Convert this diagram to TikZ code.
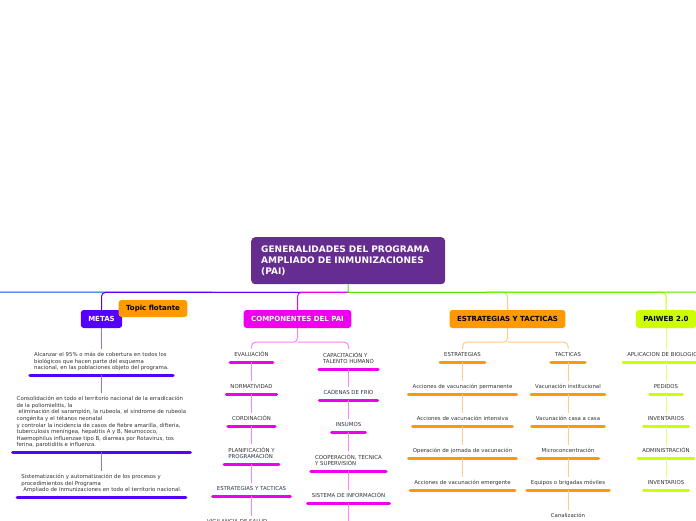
\documentclass[tikz,border=0pt]{standalone}
\usepackage{fontspec}
\setmainfont{DejaVu Sans}
\definecolor{rootC}{HTML}{662D91}
\definecolor{metC}{HTML}{5500FF}
\definecolor{metL}{HTML}{9070FF}
\definecolor{comC}{HTML}{EE00EE}
\definecolor{comL}{HTML}{FF80FF}
\definecolor{estC}{HTML}{FF9900}
\definecolor{estL}{HTML}{FFCC88}
\definecolor{paiC}{HTML}{CCFF00}
\definecolor{paiL}{HTML}{E4FF80}
\definecolor{grnC}{HTML}{4CE600}
\definecolor{bluC}{HTML}{0050E0}
\definecolor{txtC}{HTML}{333333}
\tikzset{
  topicbox/.style={rounded corners=3pt, minimum height=18pt, inner xsep=7.5pt, inner ysep=0pt,
    font=\fontsize{7}{8}\selectfont\bfseries},
  subtxt/.style={inner xsep=4pt, inner ysep=3pt, align=left, text=txtC,
    font=\fontsize{5.4}{6.6}\selectfont, execute at end node=\strut},
  bar/.style={line width=3pt, line cap=round, draw=#1},
  conn/.style={line width=1pt, draw=#1},
}
\newcommand{\mysub}[5]{%
  \node[subtxt, anchor=south] (#1) at (#2,#3) {#5};
  \draw[bar=#4] (#1.south west) -- (#1.south east);}
\begin{document}
\begin{tikzpicture}[x=1pt,y=-1pt]
\useasboundingbox (0,0) rectangle (696,520);
\clip (0,0) rectangle (696,520);
\fill[white] (0,0) rectangle (696,520);

% root
\node[fill=rootC, text=white, rounded corners=4pt, anchor=north west, text width=174pt,
  minimum height=47pt, inner xsep=10pt, inner ysep=0pt, align=left,
  font=\fontsize{9}{11}\selectfont\bfseries] (root) at (251,237)
  {GENERALIDADES DEL PROGRAMA\\AMPLIADO DE INMUNIZACIONES\\(PAI)};

% main topics
\node[topicbox, fill=metC, text=white] (metas) at (101.5,319) {METAS};
\node[topicbox, fill=comC, text=white] (comp) at (297.5,319) {COMPONENTES DEL PAI};
\node[topicbox, fill=estC, text=black] (estr) at (507.5,319) {ESTRATEGIAS Y TACTICAS};
\node[topicbox, fill=paiC, text=black] (pai) at (666,319) {PAIWEB 2.0};
\node[topicbox, fill=estC, text=black, minimum height=17pt] (flot) at (153,308.5) {Topic flotante};

% hub lines
\coordinate (hub) at ([yshift=-8pt]root.south);
\coordinate (leftend) at (0,292);
\coordinate (rightend) at (700,292);
\draw[conn=bluC] (hub) -- (leftend);
\draw[conn=metC, rounded corners=4pt] (hub) -| (metas.north);
\draw[conn=comC, rounded corners=4pt] (hub) -| (comp.north);
\draw[conn=estL, rounded corners=4pt] (hub) -| (estr.north);
\draw[conn=paiC, rounded corners=4pt] (hub) -| (pai.north);
\draw[conn=grnC] (root.south) -- (hub) -- (rightend);

% METAS
\mysub{m1}{101.5}{375}{metC}{Alcanzar el 95\% o más de cobertura en todos los\\biológicos que hacen parte del esquema\\nacional, en las poblaciones objeto del programa.}
\mysub{m2}{101.5}{452}{metC}{Consolidación en todo el territorio nacional de la erradicación\\de la poliomielitis, la\\\hspace*{2pt}eliminación del sarampión, la rubeola, el síndrome de rubeola\\congénita y el tétanos neonatal\\y controlar la incidencia de casos de fiebre amarilla, difteria,\\tuberculosis meníngea, hepatitis A y B, Neumococo,\\Haemophilus influenzae tipo B, diarreas por Rotavirus, tos\\ferina, parotiditis e influenza.}
\mysub{m3}{101.5}{497}{metC}{Sistematización y automatización de los procesos y\\procedimientos del Programa\\\hspace*{2pt}Ampliado de Inmunizaciones en todo el territorio nacional.}
\draw[conn=metL] (metas.south) -- (m1.north);
\draw[conn=metL] (m1.south) -- (m2.north);
\draw[conn=metL] (m2.south) -- (m3.north);

% COMPONENTES
\mysub{c1}{251.5}{362}{comC}{EVALUACIÓN}
\mysub{c2}{251.5}{394}{comC}{NORMATIVIDAD}
\mysub{c3}{251.5}{426}{comC}{CORDINACIÓN}
\mysub{c4}{251.5}{464}{comC}{PLANIFICACIÓN Y\\PROGRAMACIÓN}
\mysub{c5}{251.5}{496}{comC}{ESTRATEGIAS Y TACTICAS}
\node[subtxt, anchor=north west] (c6) at (203,515.5) {VIGILANCIA DE SALUD};
\mysub{d1}{348.5}{369}{comC}{CAPACITACIÓN Y\\TALENTO HUMANO}
\mysub{d2}{348.5}{400}{comC}{CADENAS DE FRIO}
\mysub{d3}{348.5}{432}{comC}{INSUMOS}
\mysub{d4}{348.5}{471}{comC}{COOPERACIÓN, TECNICA\\Y SUPERVISIÓN}
\mysub{d5}{348.5}{503}{comC}{SISTEMA DE INFORMACIÓN}
\coordinate (d6) at (348.5,525);
\coordinate (csplit) at ([yshift=-14pt]comp.south);
\draw[conn=comL, rounded corners=4pt] (comp.south) -- (csplit) -| (c1.north);
\draw[conn=comL, rounded corners=4pt] (csplit) -| (d1.north);
\foreach \a/\b in {c1/c2,c2/c3,c3/c4,c4/c5,d1/d2,d2/d3,d3/d4,d4/d5}
  \draw[conn=comL] (\a.south) -- (\b.north);
\draw[conn=comL] (c5.south) -- (c5.south |- c6.north);
\draw[conn=comL] (d5.south) -- (d6);

% ESTRATEGIAS
\mysub{e1}{462.5}{362}{estC}{ESTRATEGIAS}
\mysub{e2}{462.5}{394}{estC}{Acciones de vacunación permanente}
\mysub{e3}{462.5}{426}{estC}{Acciones de vacunación intensiva}
\mysub{e4}{462.5}{458}{estC}{Operación de jornada de vacunación}
\mysub{e5}{462.5}{490}{estC}{Acciones de vacunación emergente}
\mysub{t1}{568}{362}{estC}{TACTICAS}
\mysub{t2}{568}{394}{estC}{Vacunación institucional}
\mysub{t3}{568}{426}{estC}{Vacunación casa a casa}
\mysub{t4}{568}{458}{estC}{Microconcentración}
\mysub{t5}{568}{490}{estC}{Equipos o brigadas móviles}
\mysub{t6}{568}{522.5}{estC}{Canalización}
\coordinate (esplit) at ([yshift=-14pt]estr.south);
\draw[conn=estL, rounded corners=4pt] (estr.south) -- (esplit) -| (e1.north);
\draw[conn=estL, rounded corners=4pt] (esplit) -| (t1.north);
\foreach \a/\b in {e1/e2,e2/e3,e3/e4,e4/e5,t1/t2,t2/t3,t3/t4,t4/t5,t5/t6}
  \draw[conn=estL] (\a.south) -- (\b.north);

% PAIWEB
\mysub{p1}{666}{362}{paiC}{APLICACION DE BIOLOGICOS}
\mysub{p2}{666}{394}{paiC}{PEDIDOS}
\mysub{p3}{666}{426}{paiC}{INVENTARIOS}
\mysub{p4}{666}{458}{paiC}{ADMINISTRACIÓN}
\mysub{p5}{666}{490}{paiC}{INVENTARIOS}
\draw[conn=paiL] (pai.south) -- (p1.north);
\foreach \a/\b in {p1/p2,p2/p3,p3/p4,p4/p5}
  \draw[conn=paiL] (\a.south) -- (\b.north);
\end{tikzpicture}
\end{document}
